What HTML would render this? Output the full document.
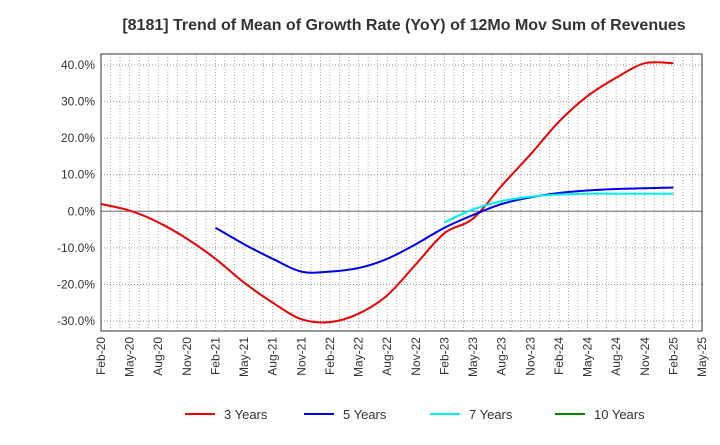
<!DOCTYPE html>
<html><head><meta charset="utf-8"><style>
body{margin:0;background:#fff;font-family:"Liberation Sans",sans-serif}
svg text{font-family:"Liberation Sans",sans-serif}
</style></head><body>
<svg width="720" height="440" xmlns="http://www.w3.org/2000/svg" id="chart">
<text x="404" y="30" text-anchor="middle" font-size="16" font-weight="bold" fill="#333">[8181]  Trend of Mean of Growth Rate (YoY) of 12Mo Mov Sum of Revenues</text>
<g id="grid"></g><g id="axes"></g><g id="series"></g><g id="legend"></g>
</svg>
<script>
const xLabels=["Feb-20","May-20","Aug-20","Nov-20","Feb-21","May-21","Aug-21","Nov-21","Feb-22","May-22","Aug-22","Nov-22","Feb-23","May-23","Aug-23","Nov-23","Feb-24","May-24","Aug-24","Nov-24","Feb-25","May-25"];
const yTicks=[40,30,20,10,0,-10,-20,-30];
const s3=[2,0.2,-3,-7.5,-13,-19.5,-25,-29.5,-30.3,-28,-23,-14.5,-6,-2,7,15.5,24.5,31.5,36.5,40.5,40.5];
const s5=[null,null,null,null,-4.5,-9,-13,-16.5,-16.5,-15.5,-13,-9,-4.5,-1,2,3.8,5,5.7,6.1,6.3,6.5];
const s7=[null,null,null,null,null,null,null,null,null,null,null,null,-3,0.5,2.8,4,4.6,4.8,4.8,4.8,4.8];
const s10=[];
const NS="http://www.w3.org/2000/svg";
const L=101,R=702,T=54,B=331;
const xq=i=>L+i*3*(R-L)/63;
const xm=m=>L+m*(R-L)/63;
const y=v=>211.3-v*3.657;
function mk(tag,attrs,parent){const e=document.createElementNS(NS,tag);for(const k in attrs)e.setAttribute(k,attrs[k]);parent.appendChild(e);return e;}
const grid=document.getElementById('grid'),axes=document.getElementById('axes'),ser=document.getElementById('series'),leg=document.getElementById('legend');
for(let m=1;m<63;m++){const l=mk('line',{x1:xm(m),x2:xm(m),y1:T,y2:B,stroke:'#aaa','stroke-dasharray':'1,2','stroke-width':1},grid);

}
yTicks.forEach(v=>{const l=mk('line',{x1:L,x2:R,y1:y(v),y2:y(v),stroke:v===0?'#666':'#999','stroke-dasharray':v===0?'':'1,2','stroke-width':1},grid);


const t=mk('text',{x:L-6,y:y(v)+4,'text-anchor':'end','font-size':12,fill:'#333'},axes);t.textContent=v.toFixed(1)+'%';

});
const fr=mk('rect',{x:L,y:T,width:R-L,height:B-T,fill:'none',stroke:'#333','stroke-width':1},axes);


xLabels.forEach((lab,i)=>{const x=xq(i);const t=mk('text',{x:x+4,y:B+6,'text-anchor':'end','font-size':12,fill:'#333',transform:`rotate(-90 ${x+4} ${B+6})`},axes);t.textContent=lab;

});
function line(data,color,name){const pts=[];data.forEach((v,i)=>{if(v===null||v===undefined)return;pts.push([xq(i),y(v)]);});
if(pts.length<2)return;
let d='M'+pts[0][0].toFixed(1)+','+pts[0][1].toFixed(1);
for(let i=0;i<pts.length-1;i++){const p0=pts[Math.max(0,i-1)],p1=pts[i],p2=pts[i+1],p3=pts[Math.min(pts.length-1,i+2)];
const c1=[p1[0]+(p2[0]-p0[0])/6,p1[1]+(p2[1]-p0[1])/6],c2=[p2[0]-(p3[0]-p1[0])/6,p2[1]-(p3[1]-p1[1])/6];
d+='C'+c1[0].toFixed(1)+','+c1[1].toFixed(1)+' '+c2[0].toFixed(1)+','+c2[1].toFixed(1)+' '+p2[0].toFixed(1)+','+p2[1].toFixed(1);}
const p=mk('path',{d:d,fill:'none',stroke:color,'stroke-width':2,'stroke-linejoin':'round'},ser);

}
line(s3,'#e00','series-3-years');line(s5,'#00e','series-5-years');line(s7,'#0ee','series-7-years');line(s10,'#080','series-10-years');
const legs=[['3 Years','#e00',185],['5 Years','#00e',304],['7 Years','#0ee',430],['10 Years','#080',555]];
legs.forEach(([n,c,x])=>{const g=mk('g',{},leg);


mk('line',{x1:x,x2:x+30,y1:414,y2:414,stroke:c,'stroke-width':2},g);
const t=mk('text',{x:x+39,y:419,'font-size':13,fill:'#333'},g);t.textContent=n;});
</script>
</body></html>
